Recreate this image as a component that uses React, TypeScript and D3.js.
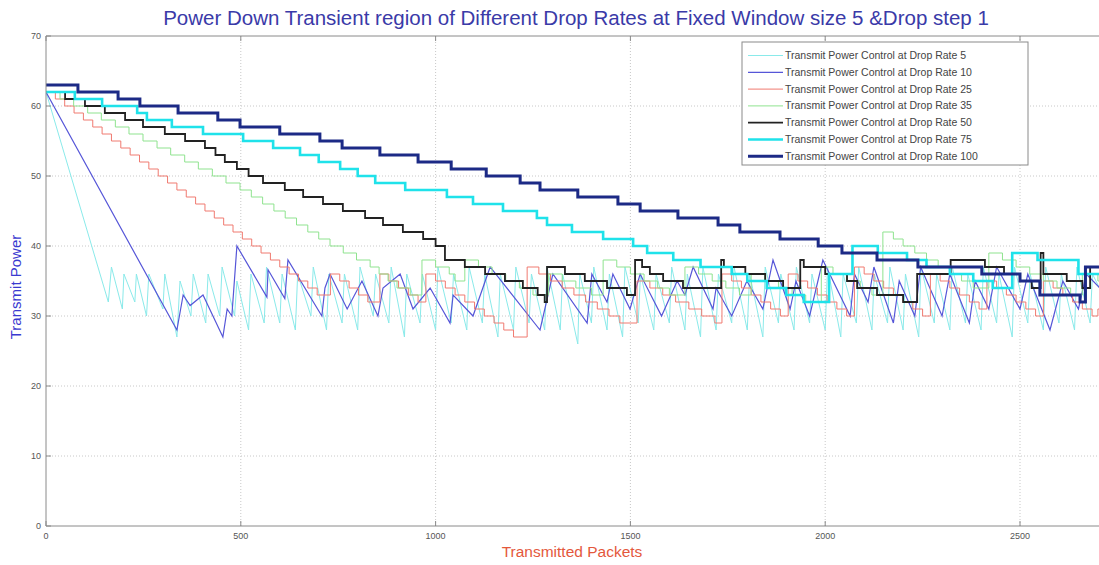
import React from 'react';
import * as d3 from 'd3';

// power readings (packets, power)
const rate5 = [
  [0, 62], [160, 32], [168, 37], [196, 31], [200, 36], [228, 32], [232, 36], [258, 30], [264, 36], [300, 31],
  [305, 36], [336, 27], [344, 35], [372, 30], [378, 36], [410, 29], [416, 36], [446, 30], [452, 37], [484, 30],
  [490, 35], [520, 28], [526, 36], [560, 29], [566, 37], [600, 29], [606, 36], [640, 28], [646, 36], [680, 30],
  [686, 37], [720, 28], [726, 36], [760, 29], [766, 36], [800, 28], [806, 37], [840, 30], [846, 36], [880, 29],
  [886, 37], [920, 27], [926, 36], [960, 29], [966, 36], [1000, 28], [1006, 37], [1040, 29], [1046, 36], [1080, 28],
  [1086, 37], [1120, 29], [1126, 36], [1160, 27], [1166, 36], [1200, 28], [1206, 37], [1240, 29], [1246, 36], [1280, 28],
  [1286, 37], [1320, 28], [1326, 36], [1365, 26], [1370, 36], [1400, 29], [1406, 37], [1440, 28], [1446, 36], [1480, 27],
  [1486, 37], [1520, 29], [1526, 36], [1560, 28], [1566, 36], [1600, 29], [1606, 37], [1640, 28], [1646, 36], [1680, 27],
  [1686, 37], [1720, 28], [1726, 36], [1760, 29], [1766, 37], [1800, 28], [1806, 36], [1840, 27], [1846, 37], [1880, 29],
  [1886, 36], [1920, 28], [1926, 37], [1960, 29], [1966, 36], [2000, 28], [2006, 37], [2040, 27], [2046, 36], [2080, 29],
  [2086, 37], [2120, 28], [2126, 36], [2160, 29], [2166, 37], [2200, 28], [2206, 36], [2240, 27], [2246, 37], [2280, 29],
  [2286, 36], [2320, 28], [2326, 37], [2360, 29], [2366, 36], [2400, 28], [2406, 37], [2440, 29], [2446, 36], [2480, 27],
  [2486, 37], [2520, 29], [2526, 36], [2560, 28], [2566, 37], [2600, 29], [2606, 36], [2640, 28], [2646, 37], [2680, 29],
  [2686, 36], [2740, 30],
];

const rate10 = [
  [0, 62], [336, 28], [352, 33], [370, 31.5], [403, 33], [454, 27], [465, 31], [477, 30], [490, 40], [567, 32.7],
  [570, 36.6], [613, 32.5], [621, 38], [708, 30], [716, 34], [729, 36], [773, 31], [811, 35], [852, 30], [865, 34],
  [909, 36], [942, 31], [986, 34], [1037, 29], [1045, 33], [1096, 30], [1140, 37], [1268, 28], [1301, 36], [1389, 29],
  [1401, 36], [1440, 32], [1455, 36], [1499, 31], [1525, 36], [1580, 30], [1620, 35], [1640, 33], [1661, 37], [1712, 31],
  [1720, 34], [1760, 30], [1799, 35], [1840, 31], [1866, 38], [1910, 31], [1925, 35], [1960, 30], [1994, 38], [2064, 30],
  [2075, 36], [2110, 32], [2125, 37], [2175, 29], [2190, 35], [2230, 30], [2245, 37], [2300, 30], [2320, 36], [2370, 29],
  [2385, 35], [2420, 31], [2440, 37], [2500, 31], [2520, 36], [2577, 28], [2610, 35], [2650, 31], [2670, 36], [2740, 32],
];

const rate25 = [
  [0, 62], [24, 61], [48, 60], [72, 59], [96, 58], [120, 57], [144, 56], [168, 55], [192, 54], [216, 53],
  [240, 52], [264, 51], [288, 50], [312, 49], [336, 48], [360, 47], [384, 46], [408, 45], [432, 44], [456, 43],
  [480, 42], [504, 41], [528, 40], [552, 39], [576, 38], [600, 37], [624, 36], [648, 35], [672, 34], [696, 33],
  [730, 36], [754, 35], [778, 34], [802, 33], [826, 32], [857, 36], [880, 35], [905, 34], [930, 33], [955, 32],
  [975, 36], [1000, 35], [1025, 34], [1050, 33], [1075, 32], [1100, 31], [1125, 30], [1150, 29], [1175, 28], [1200, 27],
  [1235, 37], [1265, 36], [1295, 35], [1325, 34], [1355, 33], [1385, 32], [1415, 31], [1445, 30], [1473, 29], [1517, 35],
  [1550, 34], [1583, 33], [1616, 32], [1650, 31], [1683, 30], [1717, 29], [1735, 36], [1760, 35], [1785, 34], [1810, 33],
  [1835, 32], [1860, 31], [1885, 30], [1905, 36], [1930, 35], [1955, 34], [1980, 33], [2005, 32], [2030, 31], [2055, 30],
  [2075, 37], [2100, 36], [2125, 35], [2150, 34], [2175, 33], [2200, 32], [2225, 31], [2250, 30], [2270, 36], [2295, 35],
  [2320, 34], [2345, 33], [2370, 32], [2395, 31], [2415, 35], [2440, 34], [2465, 33], [2490, 32], [2515, 31], [2540, 30],
  [2560, 35], [2585, 34], [2610, 33], [2635, 32], [2660, 31], [2685, 30], [2700, 31], [2740, 31],
];

const rate35 = [
  [0, 62], [36, 61], [71, 60], [107, 59], [142, 58], [178, 57], [213, 56], [249, 55], [285, 54], [320, 53],
  [356, 52], [391, 51], [427, 50], [462, 49], [498, 48], [527, 47], [556, 46], [585, 45], [614, 44], [643, 43],
  [672, 42], [700, 41], [729, 40], [763, 39], [797, 38], [832, 37], [855, 36], [878, 35], [901, 34], [935, 33],
  [965, 38], [1000, 37], [1035, 36], [1050, 35], [1075, 38], [1110, 37], [1145, 36], [1180, 35], [1215, 34], [1250, 33],
  [1290, 36], [1325, 35], [1360, 34], [1400, 33], [1430, 38], [1465, 37], [1500, 36], [1535, 35], [1570, 34], [1600, 33],
  [1640, 37], [1675, 36], [1710, 35], [1745, 34], [1780, 33], [1810, 36], [1845, 35], [1880, 34], [1915, 33], [1950, 32],
  [1990, 37], [2020, 36], [2055, 35], [2090, 34], [2120, 33], [2148, 42], [2175, 41], [2200, 40], [2230, 39], [2260, 38],
  [2290, 37], [2320, 36], [2350, 35], [2380, 34], [2420, 39], [2455, 38], [2490, 37], [2525, 36], [2560, 35], [2595, 34],
  [2630, 33], [2660, 36], [2700, 35], [2740, 35],
];

const rate50 = [
  [0, 62], [49, 61], [100, 60], [151, 59], [203, 58], [249, 57], [305, 56], [357, 55], [408, 54], [435, 53],
  [459, 52], [490, 51], [520, 50], [557, 49], [613, 48], [660, 47], [711, 46], [762, 45], [819, 44], [865, 43],
  [916, 42], [968, 41], [1000, 40], [1024, 38], [1075, 37], [1127, 36], [1178, 35], [1224, 34], [1262, 33], [1280, 32],
  [1286, 37], [1332, 36], [1383, 35], [1440, 34], [1491, 33], [1512, 38], [1530, 37], [1550, 36], [1584, 35], [1635, 34],
  [1733, 38], [1740, 37], [1795, 36], [1846, 35], [1892, 34], [1936, 38], [1945, 37], [2000, 36], [2056, 35], [2082, 34],
  [2133, 33], [2200, 32], [2236, 36], [2322, 38], [2410, 37], [2459, 36], [2500, 35], [2530, 34], [2553, 39], [2560, 36],
  [2620, 35], [2660, 34], [2680, 37], [2740, 37],
];

const rate75 = [
  [0, 62], [74, 61], [144, 60], [234, 59], [259, 58], [323, 57], [403, 56], [506, 55], [583, 54], [652, 53],
  [700, 52], [755, 51], [800, 50], [845, 49], [922, 48], [1029, 47], [1096, 46], [1173, 45], [1260, 44], [1286, 43],
  [1350, 42], [1430, 41], [1507, 40], [1543, 39], [1610, 38], [1680, 37], [1760, 36], [1800, 35], [1850, 34], [1900, 33],
  [1945, 32], [2010, 36], [2070, 40], [2135, 39], [2210, 38], [2260, 37], [2320, 36], [2380, 35], [2430, 34], [2480, 39],
  [2545, 38], [2650, 36], [2740, 36],
];

const rate100 = [
  [0, 63], [82, 62], [185, 61], [241, 60], [339, 59], [441, 58], [498, 57], [600, 56], [703, 55], [760, 54],
  [857, 53], [955, 52], [1040, 51], [1130, 50], [1217, 49], [1268, 48], [1365, 47], [1468, 46], [1525, 45], [1622, 44],
  [1725, 43], [1781, 42], [1884, 41], [1982, 40], [2043, 39], [2133, 38], [2238, 37], [2402, 36], [2500, 35], [2551, 33],
  [2654, 32], [2668, 37], [2740, 37],
];

const legendLabels = [
  'Transmit Power Control at Drop Rate 5',
  'Transmit Power Control at Drop Rate 10',
  'Transmit Power Control at Drop Rate 25',
  'Transmit Power Control at Drop Rate 35',
  'Transmit Power Control at Drop Rate 50',
  'Transmit Power Control at Drop Rate 75',
  'Transmit Power Control at Drop Rate 100',
];

const xTicks = [0, 500, 1000, 1500, 2000, 2500];
const yTicks = [0, 10, 20, 30, 40, 50, 60, 70];

const series = [
  { data: rate5, color: '#8aeaea', width: 1, step: false },
  { data: rate10, color: '#5656d8', width: 1.2, step: false },
  { data: rate25, color: '#f07a70', width: 1, step: true },
  { data: rate35, color: '#8fe38f', width: 1, step: true },
  { data: rate50, color: '#222222', width: 1.8, step: true },
  { data: rate75, color: '#1fe2ea', width: 2.6, step: true },
  { data: rate100, color: '#1c2a86', width: 3, step: true },
];

const W = 1099;
const H = 565;
const left = 46, top = 36, bottom = 526, right = 1110;

export default function App() {
  const x = d3.scaleLinear().domain([0, 2500]).range([left, 1020]);
  const y = d3.scaleLinear().domain([0, 70]).range([bottom, top]);

  const font = 'Liberation Sans, Arial, sans-serif';

  return (
    <svg width={W} height={H} style={{ position: 'absolute', left: 0, top: 0, background: '#fff' }}>
      <defs>
        <clipPath id="plot">
          <rect x={left} y={top} width={right - left} height={bottom - top} />
        </clipPath>
      </defs>

      <text x={576} y={25} textAnchor="middle" fontFamily={font} fontSize={20.5} fill="#3a3aa8">
        Power Down Transient region of Different Drop Rates at Fixed Window size 5 &amp;Drop step 1
      </text>

      {/* grid */}
      {yTicks.slice(1, -1).map((t) => (
        <line key={'gy' + t} x1={left} x2={right} y1={y(t)} y2={y(t)} stroke="#c8c8c8" strokeDasharray="1,2" />
      ))}
      {xTicks.slice(1).map((t) => (
        <line key={'gx' + t} x1={x(t)} x2={x(t)} y1={top} y2={bottom} stroke="#c8c8c8" strokeDasharray="1,2" />
      ))}

      <g clipPath="url(#plot)">
        {series.map((s, i) => {
          const line = d3
            .line<number[]>()
            .x((d) => x(d[0]))
            .y((d) => y(d[1]))
            .curve(s.step ? d3.curveStepAfter : d3.curveLinear);
          return (
            <path key={i} d={line(s.data) || ''} fill="none" stroke={s.color} strokeWidth={s.width} strokeLinejoin="miter" />
          );
        })}
      </g>

      {/* axes box */}
      <line x1={left} x2={right} y1={top} y2={top} stroke="#8a8a8a" />
      <line x1={left} x2={right} y1={bottom} y2={bottom} stroke="#8a8a8a" />
      <line x1={left} x2={left} y1={top} y2={bottom} stroke="#8a8a8a" />

      {yTicks.map((t) => (
        <g key={'ty' + t}>
          <line x1={left} x2={left + 5} y1={y(t)} y2={y(t)} stroke="#8a8a8a" />
          <text x={left - 5} y={y(t) + 3} textAnchor="end" fontFamily={font} fontSize={9} fill="#555">
            {t}
          </text>
        </g>
      ))}
      {xTicks.map((t) => (
        <g key={'tx' + t}>
          <line x1={x(t)} x2={x(t)} y1={bottom} y2={bottom - 5} stroke="#8a8a8a" />
          <line x1={x(t)} x2={x(t)} y1={top} y2={top + 5} stroke="#8a8a8a" />
          <text x={x(t)} y={bottom + 13} textAnchor="middle" fontFamily={font} fontSize={9} fill="#555">
            {t}
          </text>
        </g>
      ))}

      <text x={572} y={557} textAnchor="middle" fontFamily={font} fontSize={15.5} fill="#e4583c">
        Transmitted Packets
      </text>
      <text
        transform="translate(21,287) rotate(-90)"
        textAnchor="middle"
        fontFamily={font}
        fontSize={15}
        fill="#3a3ad0"
      >
        Transmit Power
      </text>

      {/* legend */}
      <rect x={742} y={42} width={286} height={123} fill="#fff" stroke="#8a8a8a" />
      {legendLabels.map((label, i) => {
        const ly = 55.5 + i * 16.8;
        return (
          <g key={label}>
            <line x1={748} x2={783} y1={ly} y2={ly} stroke={series[i].color} strokeWidth={series[i].width} />
            <text x={785} y={ly + 3.5} fontFamily={font} fontSize={10.5} fill="#444">
              {label}
            </text>
          </g>
        );
      })}
    </svg>
  );
}
